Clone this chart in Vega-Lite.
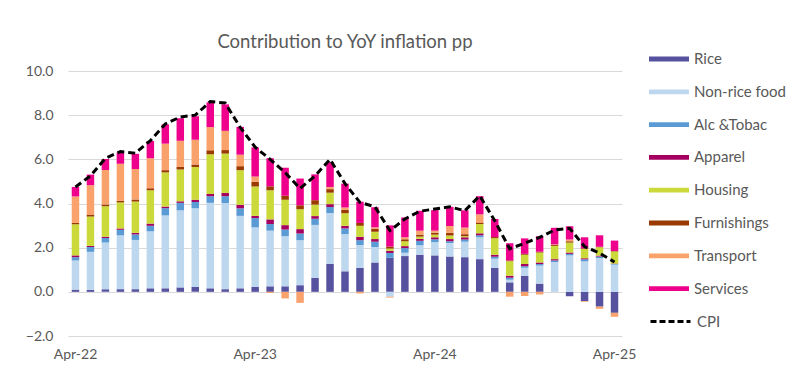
{
  "$schema": "https://vega.github.io/schema/vega-lite/v6.json",
  "autosize": {"type": "none"},
  "width": 554,
  "height": 265,
  "padding": {"left": 68, "top": 71, "right": 178, "bottom": 34},
  "background": "white",
  "title": {"text": "Contribution  to YoY inflation pp", "fontSize": 18.5, "font": "Lato", "fontWeight": "normal", "color": "#595959", "offset": -2, "anchor": "middle"},
  "config": {
    "view": {"stroke": null},
    "axis": {"labelFont": "Lato", "labelColor": "#595959", "labelFontSize": 14, "titleFont": "Lato"},
    "legend": {"labelFont": "Lato", "labelColor": "#595959", "labelFontSize": 15, "padding": 0}
  },
  "datasets": {
    "cats": [
      {"c": "Rice", "o": 1},
      {"c": "Non-rice food", "o": 2},
      {"c": "Alc &Tobac", "o": 3},
      {"c": "Apparel", "o": 4},
      {"c": "Housing", "o": 5},
      {"c": "Furnishings", "o": 6},
      {"c": "Transport", "o": 7},
      {"c": "Services", "o": 8}
    ]
  },
  "data": {"values": [
    {"m": "Apr-22", "Rice": 0.10, "Non-rice food": 1.32, "Alc &Tobac": 0.15, "Apparel": 0.08, "Housing": 1.41, "Furnishings": 0.06, "Transport": 1.20, "Services": 0.43, "CPI": 4.75},
    {"m": "May-22", "Rice": 0.09, "Non-rice food": 1.72, "Alc &Tobac": 0.22, "Apparel": 0.05, "Housing": 1.33, "Furnishings": 0.09, "Transport": 1.33, "Services": 0.48, "CPI": 5.25},
    {"m": "Jun-22", "Rice": 0.12, "Non-rice food": 2.11, "Alc &Tobac": 0.21, "Apparel": 0.06, "Housing": 1.38, "Furnishings": 0.07, "Transport": 1.57, "Services": 0.50, "CPI": 6.05},
    {"m": "Jul-22", "Rice": 0.12, "Non-rice food": 2.44, "Alc &Tobac": 0.25, "Apparel": 0.06, "Housing": 1.18, "Furnishings": 0.07, "Transport": 1.68, "Services": 0.51, "CPI": 6.35},
    {"m": "Aug-22", "Rice": 0.12, "Non-rice food": 2.23, "Alc &Tobac": 0.25, "Apparel": 0.07, "Housing": 1.42, "Furnishings": 0.09, "Transport": 1.38, "Services": 0.69, "CPI": 6.28},
    {"m": "Sep-22", "Rice": 0.16, "Non-rice food": 2.58, "Alc &Tobac": 0.25, "Apparel": 0.10, "Housing": 1.51, "Furnishings": 0.09, "Transport": 1.36, "Services": 0.78, "CPI": 6.85},
    {"m": "Oct-22", "Rice": 0.16, "Non-rice food": 3.30, "Alc &Tobac": 0.33, "Apparel": 0.07, "Housing": 1.55, "Furnishings": 0.10, "Transport": 1.20, "Services": 0.87, "CPI": 7.6},
    {"m": "Nov-22", "Rice": 0.20, "Non-rice food": 3.49, "Alc &Tobac": 0.34, "Apparel": 0.07, "Housing": 1.44, "Furnishings": 0.12, "Transport": 1.18, "Services": 1.02, "CPI": 7.92},
    {"m": "Dec-22", "Rice": 0.22, "Non-rice food": 3.57, "Alc &Tobac": 0.28, "Apparel": 0.10, "Housing": 1.48, "Furnishings": 0.12, "Transport": 1.12, "Services": 1.06, "CPI": 8.0},
    {"m": "Jan-23", "Rice": 0.16, "Non-rice food": 3.87, "Alc &Tobac": 0.30, "Apparel": 0.10, "Housing": 1.80, "Furnishings": 0.18, "Transport": 1.05, "Services": 1.12, "CPI": 8.62},
    {"m": "Feb-23", "Rice": 0.12, "Non-rice food": 3.90, "Alc &Tobac": 0.31, "Apparel": 0.15, "Housing": 1.78, "Furnishings": 0.16, "Transport": 0.87, "Services": 1.20, "CPI": 8.55},
    {"m": "Mar-23", "Rice": 0.16, "Non-rice food": 3.28, "Alc &Tobac": 0.34, "Apparel": 0.16, "Housing": 1.57, "Furnishings": 0.18, "Transport": 0.52, "Services": 1.26, "CPI": 7.45},
    {"m": "Apr-23", "Rice": 0.22, "Non-rice food": 2.70, "Alc &Tobac": 0.42, "Apparel": 0.10, "Housing": 1.33, "Furnishings": 0.21, "Transport": 0.24, "Services": 1.32, "CPI": 6.55},
    {"m": "May-23", "Rice": 0.25, "Non-rice food": 2.52, "Alc &Tobac": 0.30, "Apparel": 0.21, "Housing": 1.32, "Furnishings": 0.18, "Transport": -0.05, "Services": 1.27, "CPI": 6.0},
    {"m": "Jun-23", "Rice": 0.25, "Non-rice food": 2.27, "Alc &Tobac": 0.30, "Apparel": 0.20, "Housing": 1.15, "Furnishings": 0.18, "Transport": -0.30, "Services": 1.27, "CPI": 5.4},
    {"m": "Jul-23", "Rice": 0.30, "Non-rice food": 2.04, "Alc &Tobac": 0.30, "Apparel": 0.20, "Housing": 0.90, "Furnishings": 0.18, "Transport": -0.50, "Services": 1.21, "CPI": 4.68},
    {"m": "Aug-23", "Rice": 0.63, "Non-rice food": 2.40, "Alc &Tobac": 0.28, "Apparel": 0.12, "Housing": 0.52, "Furnishings": 0.20, "Transport": 0.0, "Services": 1.17, "CPI": 5.25},
    {"m": "Sep-23", "Rice": 1.27, "Non-rice food": 2.30, "Alc &Tobac": 0.27, "Apparel": 0.13, "Housing": 0.52, "Furnishings": 0.16, "Transport": 0.10, "Services": 1.12, "CPI": 6.0},
    {"m": "Oct-23", "Rice": 0.93, "Non-rice food": 1.69, "Alc &Tobac": 0.25, "Apparel": 0.12, "Housing": 0.57, "Furnishings": 0.16, "Transport": 0.10, "Services": 1.08, "CPI": 4.9},
    {"m": "Nov-23", "Rice": 1.09, "Non-rice food": 1.03, "Alc &Tobac": 0.22, "Apparel": 0.15, "Housing": 0.50, "Furnishings": 0.13, "Transport": -0.07, "Services": 0.96, "CPI": 4.05},
    {"m": "Dec-23", "Rice": 1.33, "Non-rice food": 0.70, "Alc &Tobac": 0.24, "Apparel": 0.12, "Housing": 0.33, "Furnishings": 0.13, "Transport": 0.07, "Services": 0.91, "CPI": 3.85},
    {"m": "Jan-24", "Rice": 1.54, "Non-rice food": -0.22, "Alc &Tobac": 0.22, "Apparel": 0.10, "Housing": 0.10, "Furnishings": 0.09, "Transport": -0.04, "Services": 0.96, "CPI": 2.77},
    {"m": "Feb-24", "Rice": 1.62, "Non-rice food": 0.15, "Alc &Tobac": 0.21, "Apparel": 0.09, "Housing": 0.22, "Furnishings": 0.09, "Transport": 0.09, "Services": 0.90, "CPI": 3.3},
    {"m": "Mar-24", "Rice": 1.68, "Non-rice food": 0.43, "Alc &Tobac": 0.20, "Apparel": 0.09, "Housing": 0.10, "Furnishings": 0.09, "Transport": 0.18, "Services": 0.90, "CPI": 3.65},
    {"m": "Apr-24", "Rice": 1.65, "Non-rice food": 0.60, "Alc &Tobac": 0.13, "Apparel": 0.09, "Housing": 0.12, "Furnishings": 0.09, "Transport": 0.09, "Services": 0.93, "CPI": 3.75},
    {"m": "May-24", "Rice": 1.60, "Non-rice food": 0.61, "Alc &Tobac": 0.08, "Apparel": 0.10, "Housing": 0.16, "Furnishings": 0.12, "Transport": 0.31, "Services": 0.87, "CPI": 3.85},
    {"m": "Jun-24", "Rice": 1.57, "Non-rice food": 0.70, "Alc &Tobac": 0.10, "Apparel": 0.10, "Housing": 0.05, "Furnishings": 0.09, "Transport": 0.30, "Services": 0.78, "CPI": 3.67},
    {"m": "Jul-24", "Rice": 1.48, "Non-rice food": 0.99, "Alc &Tobac": 0.09, "Apparel": 0.09, "Housing": 0.42, "Furnishings": 0.07, "Transport": 0.37, "Services": 0.82, "CPI": 4.35},
    {"m": "Aug-24", "Rice": 1.08, "Non-rice food": 0.42, "Alc &Tobac": 0.09, "Apparel": 0.09, "Housing": 0.75, "Furnishings": 0.05, "Transport": 0.0, "Services": 0.82, "CPI": 3.22},
    {"m": "Sep-24", "Rice": 0.43, "Non-rice food": 0.12, "Alc &Tobac": 0.09, "Apparel": 0.09, "Housing": 0.66, "Furnishings": 0.03, "Transport": -0.22, "Services": 0.78, "CPI": 1.95},
    {"m": "Oct-24", "Rice": 0.72, "Non-rice food": 0.37, "Alc &Tobac": 0.07, "Apparel": 0.10, "Housing": 0.42, "Furnishings": 0.04, "Transport": -0.19, "Services": 0.70, "CPI": 2.2},
    {"m": "Nov-24", "Rice": 0.37, "Non-rice food": 0.82, "Alc &Tobac": 0.07, "Apparel": 0.07, "Housing": 0.45, "Furnishings": 0.04, "Transport": -0.12, "Services": 0.70, "CPI": 2.47},
    {"m": "Dec-24", "Rice": 0.0, "Non-rice food": 1.35, "Alc &Tobac": 0.07, "Apparel": 0.06, "Housing": 0.60, "Furnishings": 0.04, "Transport": 0.03, "Services": 0.75, "CPI": 2.8},
    {"m": "Jan-25", "Rice": -0.20, "Non-rice food": 1.65, "Alc &Tobac": 0.07, "Apparel": 0.06, "Housing": 0.45, "Furnishings": 0.06, "Transport": 0.08, "Services": 0.60, "CPI": 2.88},
    {"m": "Feb-25", "Rice": -0.42, "Non-rice food": 1.38, "Alc &Tobac": 0.09, "Apparel": 0.05, "Housing": 0.42, "Furnishings": 0.03, "Transport": -0.03, "Services": 0.50, "CPI": 2.05},
    {"m": "Mar-25", "Rice": -0.67, "Non-rice food": 1.53, "Alc &Tobac": 0.07, "Apparel": 0.04, "Housing": 0.38, "Furnishings": 0.02, "Transport": -0.10, "Services": 0.52, "CPI": 1.75},
    {"m": "Apr-25", "Rice": -0.95, "Non-rice food": 1.23, "Alc &Tobac": 0.03, "Apparel": 0.02, "Housing": 0.55, "Furnishings": 0.02, "Transport": -0.18, "Services": 0.47, "CPI": 1.35}
  ]},
  "encoding": {
    "x": {
      "field": "m", "type": "ordinal", "sort": null,
      "scale": {"paddingInner": 0.5, "paddingOuter": 0.25},
      "axis": {"title": null, "labelAngle": 0, "ticks": false, "domain": false, "labelPadding": 11,
               "labelExpr": "indexof(datum.label, 'Apr') == 0 ? datum.label : ''"}
    }
  },
  "layer": [
    {
      "transform": [
        {"fold": ["Rice", "Non-rice food", "Alc &Tobac", "Apparel", "Housing", "Furnishings", "Transport", "Services"], "as": ["c", "v"]},
        {"lookup": "c", "from": {"data": {"name": "cats"}, "key": "c", "fields": ["o"]}}
      ],
      "mark": {"type": "bar"},
      "encoding": {
        "y": {
          "field": "v", "type": "quantitative", "stack": "zero",
          "scale": {"domain": [-2, 10], "nice": false},
          "axis": {"title": null, "values": [-2, 0, 2, 4, 6, 8, 10], "format": ".1f", "ticks": false, "domain": false,
                   "gridColor": "#D9D9D9", "gridWidth": 1, "labelPadding": 15}
        },
        "order": {"field": "o", "type": "quantitative", "sort": "ascending"},
        "color": {
          "field": "c", "type": "nominal",
          "scale": {
            "domain": ["Rice", "Non-rice food", "Alc &Tobac", "Apparel", "Housing", "Furnishings", "Transport", "Services"],
            "range": ["#5752A0", "#BDD7EE", "#5B9BD5", "#A5005F", "#CCD93A", "#9A3A00", "#F9A26C", "#EE008C"]
          },
          "legend": {
            "title": null, "orient": "none", "legendX": 591, "legendY": -22,
            "symbolType": "M-2,-0.24H2V0.24H-2Z", "symbolSize": 400, "symbolStrokeWidth": 0,
            "labelOffset": 15, "rowPadding": 14.8
          }
        }
      }
    },
    {
      "mark": {"type": "rule", "color": "#BFBFBF", "strokeWidth": 1},
      "encoding": {"y": {"datum": 0}}
    },
    {
      "mark": {"type": "line", "strokeWidth": 3, "strokeDash": [7, 4]},
      "encoding": {
        "y": {"field": "CPI", "type": "quantitative"},
        "stroke": {
          "datum": "CPI",
          "scale": {"range": ["#000000"]},
          "legend": {
            "title": null, "orient": "none", "legendX": 591, "legendY": 239,
            "symbolType": "M-2,0H2", "symbolSize": 400, "symbolStrokeWidth": 3, "symbolDash": [6, 3],
            "labelOffset": 15
          }
        }
      }
    }
  ]
}
